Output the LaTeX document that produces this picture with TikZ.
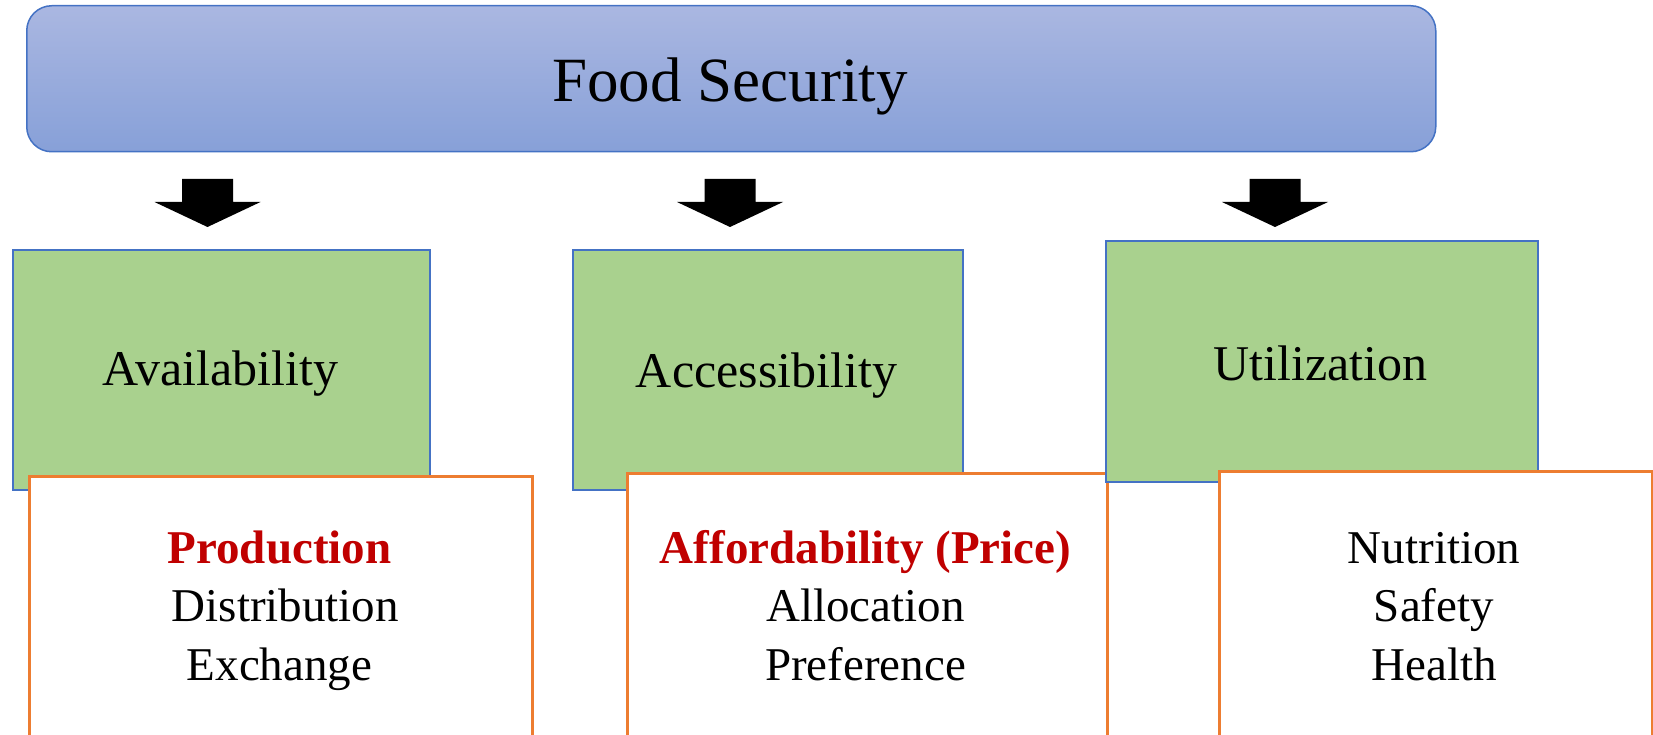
\documentclass[tikz,border=0pt]{standalone}
\usepackage{fontspec}
\setmainfont{Liberation Serif}
\definecolor{borderblue}{RGB}{68,114,196}
\definecolor{leafgreen}{RGB}{169,209,142}
\definecolor{edgeorange}{RGB}{237,125,49}
\definecolor{keyred}{RGB}{192,0,0}
\definecolor{skytop}{RGB}{170,183,225}
\definecolor{skybottom}{RGB}{135,160,216}
\newcommand{\titlesize}{\fontsize{63pt}{70pt}\selectfont}
\newcommand{\pillarsize}{\fontsize{50pt}{58pt}\selectfont}
\newcommand{\itemsize}{\fontsize{47pt}{58.5pt}\selectfont}
\begin{document}
\begin{tikzpicture}[x=1pt,y=-1pt,
  topbox/.style={draw=borderblue, line width=1.5pt, rounded corners=25pt,
    top color=skytop, bottom color=skybottom, anchor=north west, inner sep=0pt},
  pillarbox/.style={draw=borderblue, line width=2pt, fill=leafgreen,
    anchor=north west, inner sep=0pt},
  itembox/.style={draw=edgeorange, line width=2.5pt, fill=white,
    anchor=north west, inner sep=0pt},
  lbl/.style={inner sep=0pt, anchor=base},
  blockarrow/.style={fill=black}]
\useasboundingbox (0,0) rectangle (1653,735);
\clip (0,0) rectangle (1653,735);

% heading bar
\node[topbox, minimum width=1409pt, minimum height=146pt] (fs) at (26,5) {};
\node[lbl, font=\titlesize] (fstxt) at (730,102) {Food Security};

% block arrows under the heading
\coordinate (tipA) at (207.5,227);
\coordinate (tipB) at (730,227);
\coordinate (tipC) at (1275,227);
\foreach \t in {tipA,tipB,tipC}{
  \fill[blockarrow] (\t) -- ++(-53,-25) -- ++(27.5,0) -- ++(0,-23) -- ++(51,0)
    -- ++(0,23) -- ++(27.5,0) -- cycle;
}

% first column
\node[pillarbox, minimum width=417pt, minimum height=240pt] (avail) at (12,249) {};
\node[lbl, font=\pillarsize] (availtxt) at (220.5,385) {Availability};
\node[itembox, minimum width=503pt, minimum height=290pt] (availitems) at (28,475) {};
\node[lbl, font=\itemsize] (availlist) at (279.5,563)
  {\begin{tabular}[t]{@{}c@{}}\textcolor{keyred}{\bfseries Production}\\ \hspace*{0.25em}Distribution\\ Exchange\end{tabular}};

% second column
\node[pillarbox, minimum width=390pt, minimum height=240pt] (access) at (572,249) {};
\node[lbl, font=\pillarsize] (accesstxt) at (766.5,387) {Accessibility};
\node[itembox, minimum width=480pt, minimum height=290pt] (accessitems) at (626,472) {};
\node[lbl, font=\itemsize] (accesslist) at (865.5,563)
  {\begin{tabular}[t]{@{}c@{}}\textcolor{keyred}{\bfseries Affordability (Price)}\\ Allocation\\ Preference\end{tabular}};

% third column
\node[pillarbox, minimum width=432pt, minimum height=241pt] (util) at (1105,240) {};
\node[lbl, font=\pillarsize] (utiltxt) at (1320.5,380) {Utilization};
\node[itembox, minimum width=433pt, minimum height=290pt] (utilitems) at (1218,470) {};
\node[lbl, font=\itemsize] (utillist) at (1434,563)
  {\begin{tabular}[t]{@{}c@{}}Nutrition\\ Safety\\ Health\end{tabular}};
\end{tikzpicture}
\end{document}
